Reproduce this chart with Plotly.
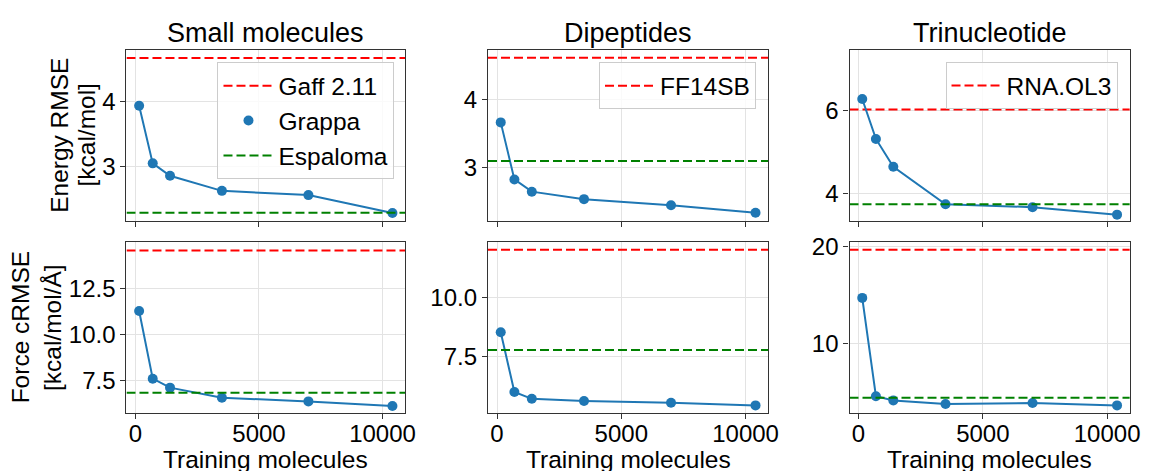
import plotly.graph_objects as go

# ---------------- data ----------------
x_train = [150, 700, 1400, 3500, 7000, 10400]

datasets = ["Small molecules", "Dipeptides", "Trinucleotide"]
classical_names = ["Gaff 2.11", "FF14SB", "RNA.OL3"]

grappa_energy = [
    [3.93, 3.05, 2.86, 2.63, 2.565, 2.29],
    [3.66, 2.82, 2.64, 2.53, 2.44, 2.33],
    [6.28, 5.32, 4.65, 3.75, 3.68, 3.50],
]
grappa_force = [
    [11.28, 7.59, 7.10, 6.55, 6.35, 6.10],
    [8.53, 5.985, 5.69, 5.60, 5.52, 5.41],
    [14.69, 4.53, 4.09, 3.72, 3.82, 3.58],
]
classical_energy = [4.66, 4.613, 6.03]
classical_force = [14.59, 12.05, 19.66]
espaloma_energy = [2.295, 3.09, 3.75]
espaloma_force = [6.82, 7.77, 4.36]

energy_ranges = [[2.171, 4.784], [2.21, 4.727], [3.35, 7.46]]
force_ranges = [[5.71, 15.05], [5.08, 12.38], [2.78, 20.47]]
energy_ticks = [[3, 4], [3, 4], [4, 6]]
force_ticks = [[7.5, 10.0, 12.5], [7.5, 10.0], [10, 20]]
force_tickfmt = [".1f", ".1f", "d"]
x_ticks = [0, 5000, 10000]
x_ticklabels = ["0", "5000", "10000"]

y_title_lines = [["Energy RMSE", "[kcal/mol]"], ["Force cRMSE", "[kcal/mol/Å]"]]
x_title = "Training molecules"

# ---------------- style ----------------
W, H = 1151, 471
FONT = "Liberation Sans, Arial, sans-serif"
BLUE = "#1f77b4"
RED = "#ff0000"
GREEN = "#008000"
DASH = "9px,4px"

col_px = [(127.7, 409.0), (492.7, 775.7), (857.7, 1140.7)]
row_px = [(41.7, 216.0), (237.5, 412.0)]
ytitle_line_x = [[60, 87], [21, 53]]

xmin, xmax = min(x_train), max(x_train)
pad = 0.05 * (xmax - xmin)
x_range = [xmin - pad, xmax + pad]

fig = go.Figure()
layout = {}

legend_names = ["legend", "legend2", "legend3"]

for c in range(3):
    for r in range(2):
        k = r * 3 + c + 1
        xa = "x" if k == 1 else f"x{k}"
        ya = "y" if k == 1 else f"y{k}"
        if r == 0:
            yv, cl, es = grappa_energy[c], classical_energy[c], espaloma_energy[c]
        else:
            yv, cl, es = grappa_force[c], classical_force[c], espaloma_force[c]
        top = r == 0
        lg = legend_names[c]
        fig.add_trace(go.Scatter(
            x=x_range, y=[cl, cl], mode="lines", xaxis=xa, yaxis=ya,
            line=dict(color=RED, width=2, dash=DASH),
            name=classical_names[c], showlegend=top, legend=lg,
            legendgroup=f"cl{c}", hoverinfo="skip"))
        fig.add_trace(go.Scatter(
            x=x_train, y=yv, mode="lines", xaxis=xa, yaxis=ya,
            line=dict(color=BLUE, width=2), showlegend=False))
        fig.add_trace(go.Scatter(
            x=x_train, y=yv, mode="markers", xaxis=xa, yaxis=ya,
            marker=dict(color=BLUE, size=10), name="Grappa",
            showlegend=(top and c == 0), legend=lg, legendgroup=f"gr{c}"))
        fig.add_trace(go.Scatter(
            x=x_range, y=[es, es], mode="lines", xaxis=xa, yaxis=ya,
            line=dict(color=GREEN, width=2, dash=DASH),
            name="Espaloma", showlegend=(top and c == 0), legend=lg,
            legendgroup=f"es{c}", hoverinfo="skip"))

        x0, x1 = col_px[c]
        y0, y1 = row_px[r]
        axis_common = dict(
            showline=True, mirror=True, linecolor="#333333", linewidth=1.3,
            ticks="outside", ticklen=5, tickwidth=1.3, tickcolor="#333333",
            showgrid=True, gridcolor="#e3e3e3", gridwidth=1, zeroline=False,
            tickfont=dict(size=24, color="black", family=FONT),
        )
        layout["xaxis" if k == 1 else f"xaxis{k}"] = dict(
            domain=[x0 / W, x1 / W], anchor=ya, range=x_range,
            tickvals=x_ticks, ticktext=x_ticklabels, ticklabelstandoff=-6,
            showticklabels=(r == 1), **axis_common)
        if r == 0:
            tv, rg, fmt = energy_ticks[c], energy_ranges[c], "d"
        else:
            tv, rg, fmt = force_ticks[c], force_ranges[c], force_tickfmt[c]
        layout["yaxis" if k == 1 else f"yaxis{k}"] = dict(
            domain=[1 - y1 / H, 1 - y0 / H], anchor=xa, range=rg,
            tickvals=tv, tickformat=fmt, **axis_common)

annotations = []
for c in range(3):
    x0, x1 = col_px[c]
    annotations.append(dict(
        text=datasets[c], x=(x0 + x1) / 2 / W, y=1 - 24 / H,
        xref="paper", yref="paper", xanchor="center", yanchor="middle",
        showarrow=False, font=dict(size=27, color="black", family=FONT)))
    annotations.append(dict(
        text=x_title, x=(x0 + x1) / 2 / W, y=1 - 459 / H,
        xref="paper", yref="paper", xanchor="center", yanchor="middle",
        showarrow=False, font=dict(size=24.5, color="black", family=FONT)))
for r in range(2):
    y0, y1 = row_px[r]
    for line, lx in zip(y_title_lines[r], ytitle_line_x[r]):
        annotations.append(dict(
            text=line, x=lx / W, y=1 - (y0 + y1) / 2 / H,
            xref="paper", yref="paper", xanchor="center", yanchor="middle",
            textangle=-90, showarrow=False,
            font=dict(size=24.5, color="black", family=FONT)))

leg_common = dict(
    bgcolor="rgba(255,255,255,0.8)", bordercolor="#cccccc", borderwidth=1,
    font=dict(size=24.5, color="black", family=FONT), itemwidth=50,
    xanchor="right", yanchor="top", tracegroupgap=0, traceorder="grouped",
)
layout["legend"] = dict(x=398.3 / W, y=1 - 54.3 / H, **leg_common)
layout["legend2"] = dict(x=763.3 / W, y=1 - 54.3 / H, **leg_common)
layout["legend3"] = dict(x=1128.3 / W, y=1 - 54 / H, **leg_common)

fig.update_layout(
    width=W, height=H, margin=dict(l=0, r=0, t=0, b=0),
    paper_bgcolor="white", plot_bgcolor="white",
    font=dict(family=FONT, color="black"),
    annotations=annotations, **layout)

fig.write_html(
    "out.html",
    config={"displayModeBar": False},
    post_script="document.body.style.margin='0';document.body.style.overflow='hidden';",
)
